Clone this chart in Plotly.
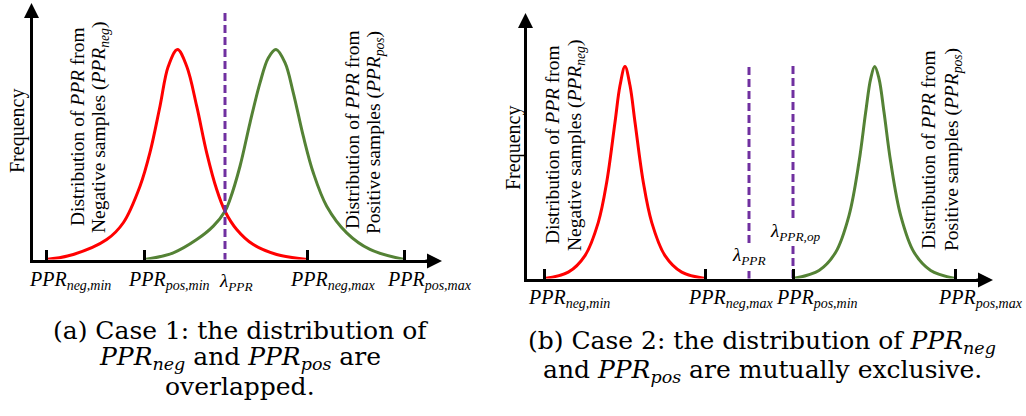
import plotly.graph_objects as go

W, H = 1026, 416

# ---------------- Case 1: overlapping distributions ----------------
a_tick_vals = [1.3, 11.17, 27.43, 37.13]
a_tick_text = ["neg,min", "pos,min", "neg,max", "pos,max"]
a_lambda = 19.2
a_lambda_span = [1.174, -0.04]

a_neg_x = [1.3, 4.03, 7.37, 9.03, 10.7, 11.7, 12.7, 13.53, 14.45, 15.37, 16.37,
           17.37, 18.37, 19.2, 20.37, 22.03, 24.37, 27.43]
a_neg_y = [0, 0.024, 0.095, 0.175, 0.349, 0.51, 0.73, 0.92, 1.0, 0.92, 0.73,
           0.508, 0.333, 0.23, 0.143, 0.071, 0.024, 0]
a_pos_x = [11.17, 14.03, 16.37, 18.03, 19.2, 19.7, 20.7, 21.7, 22.7, 23.53, 24.3,
           25.2, 26.03, 27.03, 28.03, 29.37, 31.37, 33.7, 37.13]
a_pos_y = [0, 0.032, 0.095, 0.159, 0.23, 0.286, 0.444, 0.651, 0.841, 0.96, 1.0,
           0.937, 0.794, 0.587, 0.413, 0.254, 0.127, 0.048, 0]

# ---------------- Case 2: mutually exclusive distributions ----------------
b_tick_vals = [1.75, 17.8, 26.6, 42.8]
b_tick_text = ["neg,min", "neg,max", "pos,min", "pos,max"]
b_lambda = 22.2
b_lambda_span = [0.998, -0.05]
b_lambda_op = 26.6
b_lambda_op_span = [1.002, 0]

b_neg_x = [1.75, 4.13, 5.8, 7.13, 7.97, 8.8, 9.3, 9.8, 10.3, 10.8, 11.63, 12.47,
           13.8, 15.47, 17.8]
b_neg_y = [0, 0.03, 0.108, 0.265, 0.454, 0.737, 0.91, 1.0, 0.91, 0.737, 0.454,
           0.265, 0.108, 0.03, 0]
b_pos_x = [26.6, 29.2, 30.87, 32.2, 33.2, 33.87, 34.37, 34.77, 35.2, 35.7, 36.37,
           37.37, 38.7, 40.37, 42.8]
b_pos_y = [0, 0.038, 0.124, 0.297, 0.549, 0.785, 0.943, 1.0, 0.943, 0.785, 0.549,
           0.297, 0.124, 0.038, 0]

RED = "#ff0000"
GREEN = "#548235"
PURPLE = "#7030a0"
SERIF = "Liberation Serif"
CAPTION_FONT = "DejaVu Serif"


def fx(px):
    return px / W


def fy(py):
    return 1 - py / H


# panel geometry in pixels: axis origin, axis ends, arrow tips, px per unit
A = dict(ox=33, oy=259.5, xend=436, ytop=12, xtip=442, ytip=3, sx=10, sy=210)
B = dict(ox=527, oy=278.5, xend=987, ytop=24, xtip=993, ytip=13, sx=10, sy=212)

fig = go.Figure()


def curve(x, y, color, xa, ya):
    fig.add_trace(go.Scatter(x=x, y=y, mode="lines", xaxis=xa, yaxis=ya,
                             line=dict(color=color, width=3, shape="spline"),
                             cliponaxis=False, hoverinfo="skip", showlegend=False))


def vdash(xv, span, xa, ya):
    fig.add_trace(go.Scatter(x=[xv, xv], y=span, mode="lines", xaxis=xa, yaxis=ya,
                             line=dict(color=PURPLE, width=3, dash="8px,4px"),
                             cliponaxis=False, hoverinfo="skip", showlegend=False))


curve(a_neg_x, a_neg_y, RED, "x", "y")
curve(a_pos_x, a_pos_y, GREEN, "x", "y")
vdash(a_lambda, a_lambda_span, "x", "y")

curve(b_neg_x, b_neg_y, RED, "x2", "y2")
curve(b_pos_x, b_pos_y, GREEN, "x2", "y2")
vdash(b_lambda, b_lambda_span, "x2", "y2")
vdash(b_lambda_op, b_lambda_op_span, "x2", "y2")


def axis_pair(g, ticks):
    xa = dict(domain=[fx(g["ox"]), fx(g["xend"])],
              range=[0, (g["xend"] - g["ox"]) / g["sx"]],
              showline=True, linecolor="black", linewidth=3, showgrid=False,
              zeroline=False, ticks="inside", ticklen=10, tickwidth=3,
              tickcolor="black", tickvals=ticks, showticklabels=False,
              fixedrange=True)
    ya = dict(domain=[fy(g["oy"]), fy(g["ytop"])],
              range=[0, (g["oy"] - g["ytop"]) / g["sy"]],
              showline=True, linecolor="black", linewidth=3, showgrid=False,
              zeroline=False, ticks="", showticklabels=False, fixedrange=True)
    return xa, ya


xa1, ya1 = axis_pair(A, a_tick_vals)
xa2, ya2 = axis_pair(B, b_tick_vals)
xa1["anchor"] = "y"
ya1["anchor"] = "x"
xa2["anchor"] = "y2"
ya2["anchor"] = "x2"

ann = []


def arrowheads(g):
    # filled arrowheads on the ends of both axes (paper coordinates)
    common = dict(xref="paper", yref="paper", text="", showarrow=True,
                  arrowhead=2, arrowsize=1, arrowwidth=3, arrowcolor="black",
                  standoff=0, startstandoff=0)
    ann.append(dict(x=fx(g["ox"] - 1.5), y=fy(g["ytip"]), ax=0, ay=18, **common))
    ann.append(dict(x=fx(g["xtip"]), y=fy(g["oy"] + 1.5), ax=-18, ay=0, **common))


arrowheads(A)
arrowheads(B)


def text(t, x, y, size=20, angle=0, family=SERIF, style="normal", xref="paper",
         xanchor="center", yanchor="middle", xshift=0, bg=None):
    d = dict(text=t, x=x, y=y, xref=xref, yref="paper", showarrow=False,
             textangle=angle, xanchor=xanchor, yanchor=yanchor, xshift=xshift,
             font=dict(family=family, size=size, color="black", style=style))
    if bg:
        d["bgcolor"] = bg
        d["borderpad"] = 0
    ann.append(d)


# tick labels
for v, t in zip(a_tick_vals, a_tick_text):
    text("PPR<sub>" + t + "</sub>", v, fy(280), size=20, style="italic",
         xref="x", xanchor="left", xshift=-19)
for v, t in zip(b_tick_vals, b_tick_text):
    text("PPR<sub>" + t + "</sub>", v, fy(298), size=20, style="italic",
         xref="x2", xanchor="left", xshift=-19)

# threshold labels
text("λ<sub>PPR</sub>", a_lambda, fy(282), size=19, style="italic", xref="x",
     xanchor="left", xshift=-8)
text("λ<sub>PPR</sub>", b_lambda, fy(256), size=19, style="italic", xref="x2",
     bg="white")
text("λ<sub>PPR,op</sub>", b_lambda_op, fy(232), size=19, style="italic",
     xref="x2", xshift=2, bg="white")

# y-axis titles
text("Frequency", fx(17), fy(131), angle=-90)
text("Frequency", fx(513), fy(148), angle=-90)

# rotated distribution descriptions
RS = 19.5
line1 = "Distribution of <i>PPR</i> from"
text(line1, fx(77), fy(127), size=RS, angle=-90)
text("Negative samples (<i>PPR</i><sub><i>neg</i></sub>)", fx(100), fy(128), size=RS, angle=-90)
text(line1, fx(352), fy(130), size=RS, angle=-90)
text("Positive samples (<i>PPR</i><sub><i>pos</i></sub>)", fx(375), fy(133), size=RS, angle=-90)
text(line1, fx(552), fy(145), size=RS, angle=-90)
text("Negative samples (<i>PPR</i><sub><i>neg</i></sub>)", fx(576), fy(146), size=RS, angle=-90)
text(line1, fx(928), fy(150), size=RS, angle=-90)
text("Positive samples (<i>PPR</i><sub><i>pos</i></sub>)", fx(953), fy(150), size=RS, angle=-90)

# captions
CS = 25
neg = "<i>PPR</i><sub><i>neg</i></sub>"
pos = "<i>PPR</i><sub><i>pos</i></sub>"
text("(a) Case 1: the distribution of", fx(240), fy(330), size=CS, family=CAPTION_FONT)
text(neg + " and " + pos + " are", fx(240), fy(358), size=CS, family=CAPTION_FONT)
text("overlapped.", fx(240), fy(386), size=CS, family=CAPTION_FONT)
text("(b) Case 2: the distribution of " + neg, fx(762), fy(342), size=CS,
     family=CAPTION_FONT)
text("and " + pos + " are mutually exclusive.", fx(762), fy(371), size=CS,
     family=CAPTION_FONT)

fig.update_layout(
    width=W, height=H, margin=dict(l=0, r=0, t=0, b=0),
    paper_bgcolor="white", plot_bgcolor="rgba(0,0,0,0)",
    xaxis=xa1, yaxis=ya1, xaxis2=xa2, yaxis2=ya2,
    annotations=ann, showlegend=False,
)

fig.write_html("out.html", config=dict(displayModeBar=False))
